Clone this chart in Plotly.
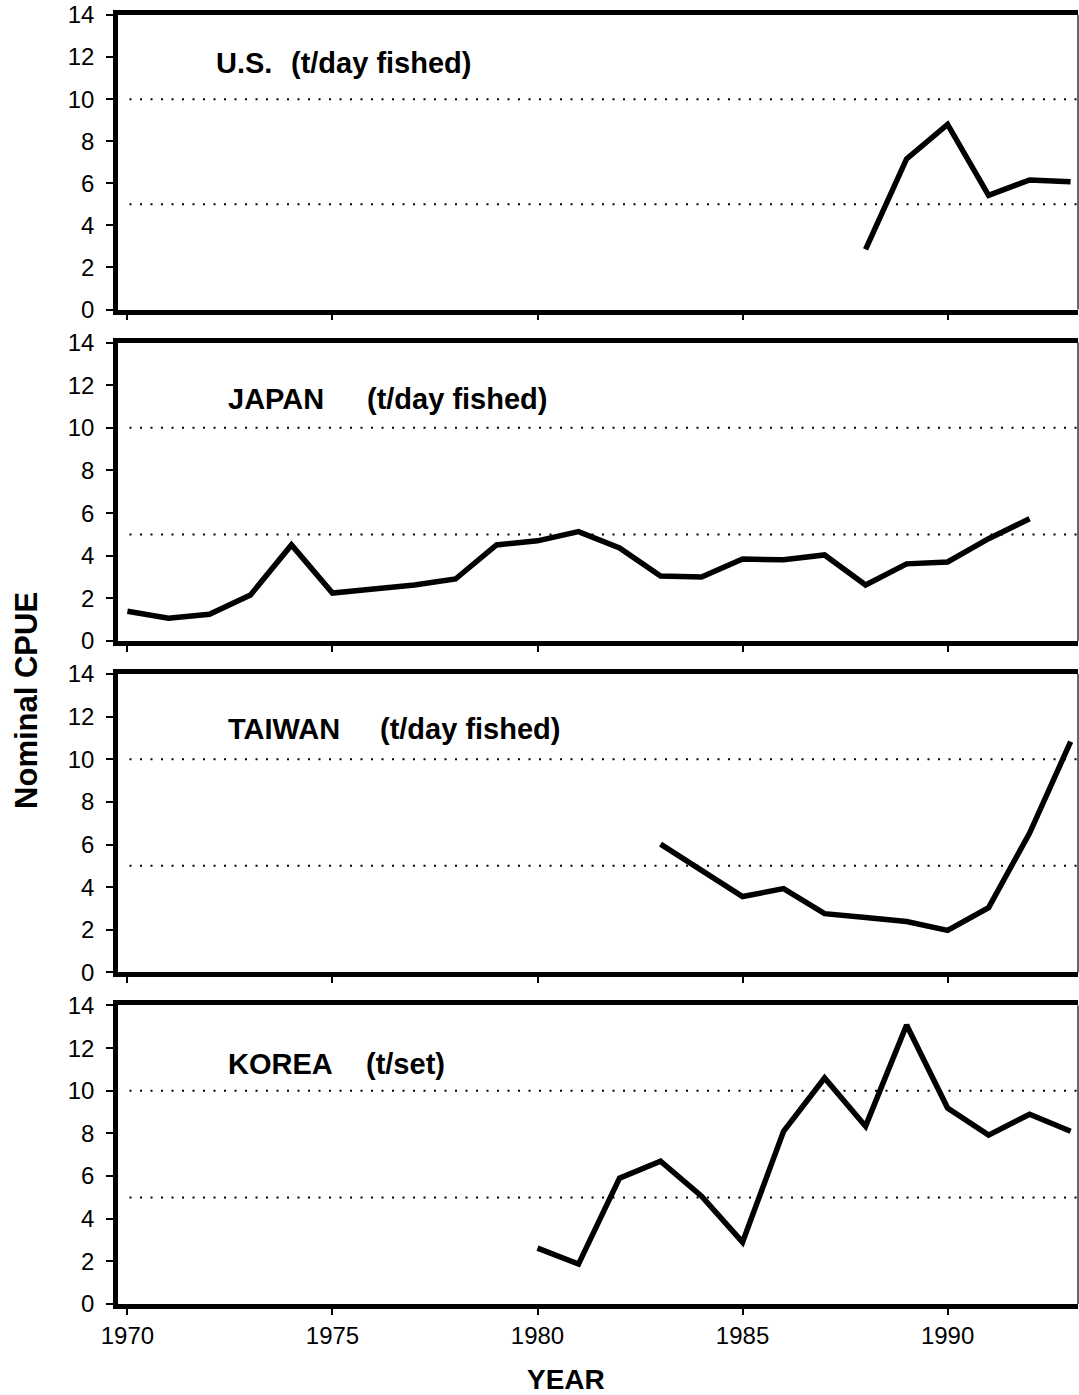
import plotly.graph_objects as go

# ---- data ----
us_years = [1988, 1989, 1990, 1991, 1992, 1993]
us_cpue = [2.86, 7.16, 8.8, 5.43, 6.16, 6.07]

japan_years = list(range(1970, 1993))
japan_cpue = [1.40, 1.07, 1.26, 2.16, 4.51, 2.25, 2.44, 2.63, 2.91, 4.51, 4.70,
              5.13, 4.37, 3.05, 3.00, 3.85, 3.81, 4.04, 2.63, 3.62, 3.71, 4.80, 5.74]

taiwan_years = list(range(1983, 1994))
taiwan_cpue = [6.02, 4.77, 3.56, 3.93, 2.76, 2.58, 2.39, 1.97, 3.04, 6.54, 10.82]

korea_years = list(range(1980, 1994))
korea_cpue = [2.62, 1.87, 5.90, 6.70, 5.06, 2.90, 8.10, 10.60, 8.34, 13.08,
              9.19, 7.92, 8.90, 8.10]

panel_names = ["U.S.", "JAPAN", "TAIWAN", "KOREA"]
panel_units = ["(t/day fished)", "(t/day fished)", "(t/day fished)", "(t/set)"]
ref_levels = [5, 10]
x_tick_vals = [1970, 1975, 1980, 1985, 1990]
y_tick_vals = [0, 2, 4, 6, 8, 10, 12, 14]

series = [(us_years, us_cpue), (japan_years, japan_cpue),
          (taiwan_years, taiwan_cpue), (korea_years, korea_cpue)]

# ---- layout ----
W, H = 1079, 1395
ML, MR, MT, MB = 118, 1, 13, 91
FONT = "Liberation Sans, Arial, Helvetica, sans-serif"
domains = [[0.7715, 1.0], [0.5143, 0.7459], [0.2572, 0.4888], [0.0, 0.2316]]
name_pos = [(1972.10, 11.7), (1972.40, 11.35), (1972.40, 11.43), (1972.40, 11.25)]
unit_x = [1973.93, 1975.80, 1976.10, 1975.76]
x_range = [1969.77, 1993.18]

fig = go.Figure()
shapes = []
annotations = []
for i, (xs, ys) in enumerate(series):
    k = "" if i == 0 else str(i + 1)
    fig.add_trace(go.Scatter(x=xs, y=ys, mode="lines",
                             line=dict(color="black", width=5.5),
                             xaxis="x" + k, yaxis="y" + k, showlegend=False,
                             hoverinfo="skip"))
    last = (i == 3)
    fig.layout["xaxis" + k] = dict(
        domain=[0, 1], anchor="y" + k, range=x_range,
        tickvals=x_tick_vals, showticklabels=last,
        ticks="outside", ticklen=6, tickwidth=1.5, tickcolor="black",
        showline=True, linewidth=4.5, linecolor="black", mirror=True,
        showgrid=False, zeroline=False,
        tickfont=dict(family=FONT, size=24, color="black"),
        **({} if i == 0 else {"matches": "x"}))
    fig.layout["yaxis" + k] = dict(
        domain=domains[i], anchor="x" + k, range=[0, 14],
        tickvals=y_tick_vals, ticks="outside", ticklen=7, tickwidth=1.5,
        tickcolor="black", showline=True, linewidth=4.5, linecolor="black",
        mirror=False, showgrid=False, zeroline=False,
        ticklabelstandoff=7,
        tickfont=dict(family=FONT, size=24, color="black"))
    xr = "x" + k
    yr = "y" + k
    for lv in ref_levels:
        shapes.append(dict(type="line", xref=xr + " domain", yref=yr,
                           x0=0.012, x1=1, y0=lv, y1=lv,
                           line=dict(color="black", width=2, dash="2px,8.5px")))
    shapes.append(dict(type="line", xref=xr + " domain", yref=yr + " domain",
                       x0=1, x1=1, y0=0, y1=1,
                       line=dict(color="#333333", width=1.5)))
    annotations.append(dict(x=name_pos[i][0], y=name_pos[i][1], xref=xr, yref=yr,
                            text=panel_names[i], showarrow=False,
                            xanchor="left", yanchor="middle",
                            font=dict(family=FONT, size=29, color="black", weight="bold")))
    annotations.append(dict(x=unit_x[i], y=name_pos[i][1], xref=xr, yref=yr,
                            text=panel_units[i], showarrow=False,
                            xanchor="left", yanchor="middle",
                            font=dict(family=FONT, size=29, color="black", weight="bold")))


def paper_x(px):
    return (px - ML) / (W - ML - MR)


def paper_y(py):
    return 1 - (py - MT) / (H - MT - MB)


annotations.append(dict(x=paper_x(566), y=paper_y(1380), xref="paper", yref="paper",
                        yanchor="middle", xanchor="center",
                        text="<b>YEAR</b>", showarrow=False,
                        font=dict(family=FONT, size=28, color="black")))
annotations.append(dict(x=paper_x(27), y=paper_y(700), xref="paper", yref="paper",
                        yanchor="middle", xanchor="center", textangle=-90,
                        text="<b>Nominal CPUE</b>", showarrow=False,
                        font=dict(family=FONT, size=31, color="black")))

fig.update_layout(width=W, height=H, paper_bgcolor="white", plot_bgcolor="white",
                  margin=dict(l=ML, r=MR, t=MT, b=MB, pad=0),
                  shapes=shapes, annotations=annotations)

fig.write_html("out.html", config={"displayModeBar": False},
               post_script="document.body.style.margin='0';document.body.style.overflow='hidden';")
